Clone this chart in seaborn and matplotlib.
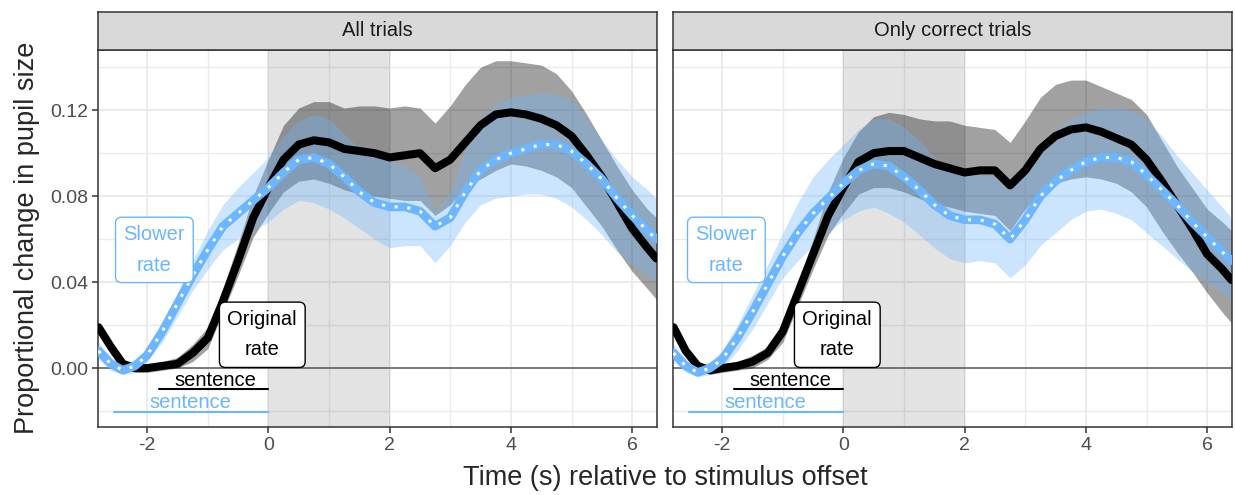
import matplotlib
matplotlib.use('Agg')
import matplotlib.pyplot as plt
import numpy as np
import pandas as pd
import seaborn as sns

# time axis (s relative to stimulus offset)
time_s = [-2.8, -2.6, -2.4, -2.2, -2.0, -1.75, -1.5, -1.25, -1.0, -0.75, -0.5, -0.25,
          0.0, 0.25, 0.5, 0.75, 1.0, 1.25, 1.5, 1.75, 2.0, 2.25, 2.5, 2.75, 3.0, 3.25,
          3.5, 3.75, 4.0, 4.25, 4.5, 4.75, 5.0, 5.25, 5.5, 5.75, 6.0, 6.25, 6.4]

panels = ['All trials', 'Only correct trials']

# --- All trials ---
orig_all = [0.019, 0.010, 0.002, 0.000, 0.000, 0.001, 0.002, 0.007, 0.014, 0.031, 0.050, 0.070,
            0.084, 0.097, 0.104, 0.106, 0.105, 0.102, 0.101, 0.100, 0.098, 0.099, 0.100, 0.093,
            0.097, 0.105, 0.113, 0.118, 0.119, 0.118, 0.116, 0.113, 0.108, 0.099, 0.089, 0.077,
            0.065, 0.056, 0.051]
orig_all_lo = [0.017, 0.008, 0.000, -0.002, -0.002, -0.001, 0.000, 0.003, 0.009, 0.026, 0.043, 0.061,
               0.072, 0.082, 0.087, 0.088, 0.086, 0.083, 0.081, 0.080, 0.079, 0.078, 0.078, 0.071,
               0.076, 0.084, 0.088, 0.092, 0.095, 0.094, 0.092, 0.089, 0.084, 0.075, 0.066, 0.055,
               0.045, 0.037, 0.032]
orig_all_hi = [0.021, 0.012, 0.004, 0.002, 0.002, 0.003, 0.005, 0.011, 0.019, 0.037, 0.058, 0.080,
               0.097, 0.113, 0.121, 0.124, 0.124, 0.121, 0.122, 0.122, 0.121, 0.122, 0.121, 0.114,
               0.122, 0.132, 0.140, 0.143, 0.143, 0.142, 0.141, 0.137, 0.129, 0.118, 0.106, 0.094,
               0.083, 0.074, 0.070]
slow_all = [0.008, 0.002, -0.001, 0.001, 0.006, 0.017, 0.030, 0.043, 0.055, 0.066, 0.072, 0.078,
            0.084, 0.091, 0.097, 0.098, 0.095, 0.089, 0.082, 0.077, 0.075, 0.075, 0.073, 0.066,
            0.070, 0.082, 0.092, 0.097, 0.100, 0.102, 0.104, 0.104, 0.101, 0.095, 0.088, 0.079,
            0.071, 0.064, 0.060]
slow_all_lo = [0.004, -0.001, -0.003, -0.002, 0.003, 0.012, 0.024, 0.036, 0.046, 0.055, 0.060, 0.064,
               0.068, 0.074, 0.078, 0.077, 0.074, 0.070, 0.065, 0.060, 0.056, 0.057, 0.057, 0.049,
               0.057, 0.068, 0.076, 0.079, 0.080, 0.081, 0.081, 0.079, 0.075, 0.069, 0.062, 0.054,
               0.048, 0.043, 0.040]
slow_all_hi = [0.012, 0.005, 0.002, 0.004, 0.009, 0.020, 0.035, 0.050, 0.064, 0.076, 0.084, 0.091,
               0.098, 0.108, 0.115, 0.118, 0.116, 0.109, 0.102, 0.098, 0.097, 0.094, 0.089, 0.073,
               0.082, 0.102, 0.116, 0.123, 0.126, 0.127, 0.128, 0.127, 0.125, 0.116, 0.106, 0.097,
               0.089, 0.083, 0.079]

# --- Only correct trials ---
orig_cor = [0.019, 0.008, 0.001, -0.001, 0.000, 0.001, 0.003, 0.007, 0.017, 0.035, 0.053, 0.071,
            0.084, 0.096, 0.100, 0.101, 0.101, 0.098, 0.095, 0.093, 0.091, 0.092, 0.092, 0.085,
            0.092, 0.102, 0.108, 0.111, 0.112, 0.110, 0.107, 0.104, 0.097, 0.087, 0.076, 0.065,
            0.053, 0.046, 0.041]
orig_cor_lo = [0.017, 0.006, -0.001, -0.003, -0.002, -0.001, 0.000, 0.004, 0.012, 0.029, 0.046, 0.062,
               0.072, 0.081, 0.084, 0.084, 0.082, 0.079, 0.076, 0.075, 0.073, 0.072, 0.071, 0.064,
               0.074, 0.082, 0.086, 0.088, 0.089, 0.088, 0.086, 0.082, 0.075, 0.064, 0.054, 0.045,
               0.035, 0.026, 0.021]
orig_cor_hi = [0.021, 0.010, 0.003, 0.001, 0.002, 0.003, 0.006, 0.010, 0.021, 0.040, 0.060, 0.082,
               0.098, 0.110, 0.117, 0.119, 0.118, 0.116, 0.115, 0.115, 0.113, 0.112, 0.111, 0.105,
               0.115, 0.126, 0.132, 0.134, 0.134, 0.131, 0.128, 0.125, 0.118, 0.106, 0.094, 0.084,
               0.074, 0.068, 0.064]
slow_cor = [0.007, 0.001, -0.002, 0.000, 0.004, 0.014, 0.026, 0.039, 0.052, 0.063, 0.072, 0.079,
            0.086, 0.092, 0.095, 0.094, 0.089, 0.083, 0.076, 0.071, 0.069, 0.069, 0.067, 0.060,
            0.069, 0.080, 0.087, 0.092, 0.096, 0.098, 0.098, 0.096, 0.090, 0.083, 0.076, 0.068,
            0.061, 0.054, 0.050]
slow_cor_lo = [0.003, -0.002, -0.004, -0.003, 0.000, 0.008, 0.018, 0.030, 0.042, 0.050, 0.057, 0.063,
               0.069, 0.073, 0.075, 0.072, 0.068, 0.062, 0.056, 0.051, 0.049, 0.050, 0.049, 0.042,
               0.048, 0.057, 0.063, 0.069, 0.073, 0.074, 0.072, 0.069, 0.063, 0.057, 0.051, 0.045,
               0.040, 0.035, 0.032]
slow_cor_hi = [0.011, 0.004, 0.001, 0.003, 0.008, 0.020, 0.034, 0.048, 0.063, 0.077, 0.089, 0.097,
               0.104, 0.111, 0.116, 0.116, 0.112, 0.106, 0.098, 0.093, 0.090, 0.090, 0.089, 0.083,
               0.092, 0.103, 0.111, 0.116, 0.119, 0.121, 0.121, 0.120, 0.116, 0.108, 0.099, 0.091,
               0.083, 0.075, 0.070]

rows = []
for panel, o, olo, ohi, s, slo, shi in [
        (panels[0], orig_all, orig_all_lo, orig_all_hi, slow_all, slow_all_lo, slow_all_hi),
        (panels[1], orig_cor, orig_cor_lo, orig_cor_hi, slow_cor, slow_cor_lo, slow_cor_hi)]:
    for i, t in enumerate(time_s):
        rows.append((panel, 'Original', t, o[i], olo[i], ohi[i]))
        rows.append((panel, 'Slower', t, s[i], slo[i], shi[i]))
df = pd.DataFrame(rows, columns=['panel', 'rate', 'time', 'pupil', 'lo', 'hi'])

BLUE = '#6CB6FF'
GRID = '#EBEBEB'
DARK = '#333333'

sns.set_style('white')
plt.rcParams['font.family'] = ['Liberation Sans', 'DejaVu Sans']
plt.rcParams['axes.unicode_minus'] = False

W, H = 1235, 495
fig = plt.figure(figsize=(W / 100, H / 100), dpi=100)

panel_left = [98, 673]
panel_w = 559
panel_top, panel_bot = 50, 427
strip_top = 12

for k, panel in enumerate(panels):
    ax = fig.add_axes([panel_left[k] / W, (H - panel_bot) / H, panel_w / W,
                       (panel_bot - panel_top) / H])
    sub = df[df.panel == panel]
    orig = sub[sub.rate == 'Original']
    slow = sub[sub.rate == 'Slower']

    ax.set_xlim(-2.81, 6.41)
    ax.set_ylim(-0.0274, 0.148)
    ax.set_xticks([-2, 0, 2, 4, 6])
    ax.set_xticks([-1, 1, 3, 5], minor=True)
    ax.set_yticks([0.0, 0.04, 0.08, 0.12])
    ax.set_yticks([-0.02, 0.02, 0.06, 0.10, 0.14], minor=True)
    ax.set_yticklabels(['0.00', '0.04', '0.08', '0.12'] if k == 0 else [])
    ax.grid(which='major', color=GRID, lw=1.4)
    ax.grid(which='minor', color=GRID, lw=1.0)
    ax.set_axisbelow(True)
    ax.tick_params(which='major', length=4, width=1.1, color=DARK, labelsize=14,
                   labelcolor='#4D4D4D', pad=3, left=(k == 0), bottom=True)
    ax.tick_params(which='minor', length=0)
    for sp in ax.spines.values():
        sp.set_color(DARK)
        sp.set_linewidth(1.1)

    ax.axvspan(0, 2, color='black', alpha=0.11, lw=0, zorder=1)
    ax.axhline(0, color='#5A5A5A', lw=1.1, zorder=1.5)

    ax.fill_between(orig.time, orig.lo, orig.hi, color='black', alpha=0.37, lw=0, zorder=2)
    ax.fill_between(slow.time, slow.lo, slow.hi, color=BLUE, alpha=0.35, lw=0, zorder=2.1)

    sns.lineplot(data=orig, x='time', y='pupil', color='black', lw=5.8, ax=ax,
                 legend=False, zorder=3, solid_joinstyle='round')
    sns.lineplot(data=slow, x='time', y='pupil', color=BLUE, lw=6.2, ax=ax,
                 legend=False, zorder=4, solid_joinstyle='round')
    ax.plot(slow.time, slow.pupil, color='white', lw=2.2, ls=(0, (1, 3.2)), zorder=5)

    # sentence markers
    ax.plot([-1.81, 0], [-0.0098, -0.0098], color='black', lw=1.5, zorder=3)
    ax.text(-0.88, -0.0056, 'sentence', color='black', fontsize=14.5, ha='center', va='center')
    ax.plot([-2.55, 0], [-0.0205, -0.0205], color=BLUE, lw=1.5, zorder=3)
    ax.text(-1.28, -0.0162, 'sentence', color=BLUE, fontsize=14.5, ha='center', va='center')

    # curve labels
    ax.text([-1.88, -1.93][k], 0.055, 'Slower\nrate', color=BLUE, fontsize=14.5,
            ha='center', va='center', linespacing=1.75, zorder=6,
            bbox=dict(boxstyle='round,pad=0.4,rounding_size=0.3', fc='white', ec=BLUE, lw=1))
    ax.text(-0.10, 0.0155, 'Original\nrate', color='black', fontsize=14.5,
            ha='center', va='center', linespacing=1.75, zorder=6,
            bbox=dict(boxstyle='round,pad=0.4,rounding_size=0.3', fc='white', ec='black', lw=1))

    ax.set_xlabel('')
    ax.set_ylabel('')

    # facet strip
    sax = fig.add_axes([panel_left[k] / W, (H - panel_top) / H, panel_w / W,
                        (panel_top - strip_top) / H])
    sax.set_facecolor('#D9D9D9')
    sax.set_xticks([])
    sax.set_yticks([])
    for sp in sax.spines.values():
        sp.set_color(DARK)
        sp.set_linewidth(1.1)
    sax.text(0.5, 0.5, panel, transform=sax.transAxes, ha='center', va='center',
             fontsize=14.5, color='#1A1A1A')

fig.text(665 / W, 1 - 478 / H, 'Time (s) relative to stimulus offset', ha='center',
         va='center', fontsize=19.5)
fig.text(27 / W, 1 - 238 / H, 'Proportional change in pupil size', ha='center',
         va='center', rotation=90, fontsize=19.5)

fig.savefig('out.png', dpi=100)
